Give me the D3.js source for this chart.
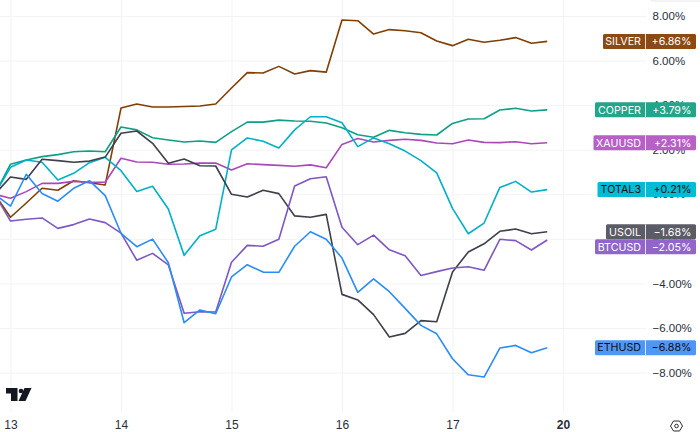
<!DOCTYPE html>
<html>
<head>
<meta charset="utf-8">
<script src="https://cdnjs.cloudflare.com/ajax/libs/d3/7.8.5/d3.min.js"></script>
<style>
    html, body { margin: 0; padding: 0; background: #fff; }
    svg { display: block; font-family: Inter, "Noto Sans", sans-serif; }
</style>
</head>
<body>
<script>
// metrics
const width = 700, height = 432;
const plotRight = 646, plotBottom = 412;

// elements
const body = d3.select('body');
const svg = body.append('svg')
    .attr('width', width)
    .attr('height', height);

// data: % change per bar, first bar is just off the left edge (index -1)
const series = [
    { name: 'SILVER', color: '#7f3f05', tag: '#8b4a14', text: '#fff', left: 603, label: '+6.86%', values: [
        0, -1.03, -0.39, 0.27, 0.18, 0.61, 0.52, 0.42, 3.87, 4.05, 3.92, 3.92, 3.94, 3.96, 4.05,
        4.77, 5.46, 5.44, 5.74, 5.40, 5.55, 5.48, 7.82, 7.79, 7.19, 7.39, 7.34, 7.25, 6.88, 6.67,
        6.96, 6.82, 6.91, 7.03, 6.78, 6.86] },
    { name: 'COPPER', color: '#0e9f86', tag: '#22a58a', text: '#fff', left: 595, label: '+3.79%', values: [
        0, 1.35, 1.54, 1.69, 1.78, 1.91, 1.94, 1.91, 3.02, 2.89, 2.54, 2.44, 2.35, 2.39, 2.33,
        2.81, 3.24, 3.24, 3.33, 3.29, 3.28, 3.20, 2.99, 2.67, 2.56, 2.87, 2.76, 2.69, 2.66, 3.18,
        3.38, 3.39, 3.78, 3.86, 3.74, 3.79] },
    { name: 'XAUUSD', color: '#ab47bc', tag: '#b95fc8', text: '#fff', left: 593.5, label: '+2.31%', values: [
        0, -0.18, 0.12, 0.49, 0.49, 0.58, 0.54, 0.54, 1.62, 1.45, 1.44, 1.35, 1.36, 1.40, 1.40,
        1.09, 1.37, 1.33, 1.30, 1.26, 1.32, 1.19, 2.24, 2.50, 2.35, 2.42, 2.47, 2.42, 2.30, 2.27,
        2.44, 2.33, 2.32, 2.36, 2.27, 2.31] },
    { name: 'TOTAL3', color: '#00b0c8', tag: '#00bcd4', text: '#111', left: 597.5, label: '+0.21%', values: [
        0, 1.21, 1.54, 1.44, 0.64, 0.94, 1.42, 1.66, 1.06, 0.13, 0.36, -0.66, -2.74, -1.86, -1.57,
        1.99, 2.53, 2.38, 2.08, 2.89, 3.48, 3.48, 3.21, 2.14, 2.53, 2.27, 1.94, 1.51, 0.96, -0.63,
        -1.77, -1.29, 0.31, 0.58, 0.10, 0.21] },
    { name: 'USOIL', color: '#3d3f4a', tag: '#5b5c66', text: '#fff', left: 606, label: '\u22121.68%', values: [
        0, 0.78, 0.67, 1.57, 1.51, 1.44, 1.49, 1.67, 2.74, 2.84, 2.29, 1.39, 1.58, 1.28, 1.27,
        0.00, -0.12, 0.18, 0.03, -0.97, -1.03, -0.90, -4.49, -4.74, -5.40, -6.40, -6.24, -5.67, -5.72, -3.49,
        -2.59, -2.22, -1.66, -1.56, -1.77, -1.68] },
    { name: 'BTCUSD', color: '#7e57c2', tag: '#9265cb', text: '#fff', left: 595, label: '\u22122.05%', values: [
        0, -1.20, -1.12, -1.06, -1.53, -1.36, -1.11, -1.27, -1.74, -2.96, -2.65, -3.17, -5.34, -5.27, -5.28,
        -3.05, -2.29, -2.33, -2.02, 0.37, 0.70, 0.79, -1.48, -2.26, -1.83, -2.49, -2.76, -3.64, -3.47, -3.31,
        -3.25, -3.41, -2.02, -2.08, -2.50, -2.05] },
    { name: 'ETHUSD', color: '#2a8cf7', tag: '#4f96f5', text: '#111', left: 595, label: '\u22126.88%', values: [
        0, -0.53, 0.90, 0.04, -0.31, 0.27, 0.61, -0.06, -1.75, -2.35, -2.01, -3.07, -5.76, -5.19, -5.36,
        -3.71, -3.16, -3.49, -3.50, -2.33, -1.68, -2.02, -2.86, -4.40, -3.79, -4.37, -5.12, -5.88, -6.26, -7.38,
        -8.10, -8.20, -6.90, -6.78, -7.11, -6.88] }
];

// day labels sit every 7 bars, the weekend is collapsed so 17 is followed by 20
const dayTicks = new Map([[0, '13'], [7, '14'], [14, '15'], [21, '16'], [28, '17'], [35, '20']]);

// axis scale
const xScale = d3.scaleLinear().domain([0, 35]).range([10.5, 563]);
const yScale = d3.scaleLinear().domain([-8, 8]).range([372.6, 16]);

// grid
svg.append('g')
    .attr('transform', `translate(0, ${plotBottom})`)
    .call(d3.axisBottom(xScale)
        .tickValues([...dayTicks.keys()])
        .tickSize(-plotBottom)
        .tickPadding(8)
        .tickFormat(d => dayTicks.get(d)))
    .call(g => g.select('.domain').remove())
    .call(g => g.selectAll('line').attr('stroke', '#f3f3f4'))
    .call(g => g.selectAll('text')
        .attr('font-size', 12)
        .attr('fill', '#2a2e39')
        .attr('font-weight', d => d === 35 ? 700 : 400));

const pctFormat = d => d3.format('.2f')(d).replace('-', '\u2212') + '%';

svg.append('g')
    .attr('transform', `translate(${plotRight}, 0)`)
    .call(d3.axisLeft(yScale)
        .tickValues(d3.range(-8, 9, 2))
        .tickSize(plotRight)
        .tickFormat(''))
    .call(g => g.select('.domain').remove())
    .call(g => g.selectAll('line').attr('stroke', '#f3f3f4'));

svg.append('g')
    .attr('transform', `translate(${plotRight + 6.5}, 0)`)
    .call(d3.axisRight(yScale)
        .tickValues(d3.range(-8, 9, 2))
        .tickSize(0)
        .tickPadding(0)
        .tickFormat(pctFormat))
    .call(g => g.select('.domain').remove())
    .call(g => g.selectAll('text')
        .attr('font-size', 11.5)
        .attr('fill', '#2a2e39'));

// edge of the box cut off at the top of the screenshot
svg.append('rect')
    .attr('x', 651).attr('y', -8)
    .attr('width', 60).attr('height', 9)
    .attr('rx', 2)
    .attr('fill', '#fff')
    .attr('stroke', '#e6e6e8');

// lines
const line = d3.line()
    .x((d, i) => xScale(i - 1))
    .y(d => yScale(d));

svg.append('g')
    .selectAll('path')
    .data(series)
    .join('path')
    .attr('d', d => line(d.values))
    .attr('fill', 'none')
    .attr('stroke', d => d.color)
    .attr('stroke-width', 1.6)
    .attr('stroke-linejoin', 'round');

// price tags, pushed down when they would collide with the one above
const tagHeight = 15, tagMid = 645.5, tagRight = 696;
let lastTagY = -Infinity;
series.forEach(d => {
    d.tagY = Math.max(yScale(d.values[d.values.length - 1]), lastTagY + tagHeight);
    lastTagY = d.tagY;
});

const tags = svg.append('g')
    .selectAll('g')
    .data(series)
    .join('g')
    .attr('transform', d => `translate(0, ${d.tagY})`);

tags.append('rect')
    .attr('x', d => d.left)
    .attr('y', -tagHeight / 2)
    .attr('width', d => tagRight - d.left)
    .attr('height', tagHeight)
    .attr('rx', 1.5)
    .attr('fill', d => d.tag);

tags.append('line')
    .attr('x1', tagMid).attr('x2', tagMid)
    .attr('y1', -tagHeight / 2).attr('y2', tagHeight / 2)
    .attr('stroke', '#fff')
    .attr('stroke-width', 0.8);

tags.append('text')
    .attr('x', tagMid - 4.5)
    .attr('dy', '0.36em')
    .attr('text-anchor', 'end')
    .attr('font-size', 10.7)
    .attr('fill', d => d.text)
    .text(d => d.name);

tags.append('text')
    .attr('x', tagRight - 4.5)
    .attr('dy', '0.36em')
    .attr('text-anchor', 'end')
    .attr('font-size', 10.7)
    .attr('fill', d => d.text)
    .text(d => d.label);

// logo
const logo = svg.append('g').attr('fill', '#131722');
logo.append('path').attr('d', 'M6 388H17.5V401H11V393.5H6Z');
logo.append('circle').attr('cx', 21).attr('cy', 391).attr('r', 2.3);
logo.append('path').attr('d', 'M24.5 388H31.5L25.5 401H18.5Z');

// settings icon
const gear = svg.append('g')
    .attr('transform', 'translate(676.5, 426)')
    .attr('fill', 'none')
    .attr('stroke', '#2a2e39')
    .attr('stroke-width', 1);
gear.append('path').attr('d', 'M-6 0L-3 -5H3L6 0L3 5H-3Z');
gear.append('circle').attr('r', 1.8);
</script>
</body>
</html>
